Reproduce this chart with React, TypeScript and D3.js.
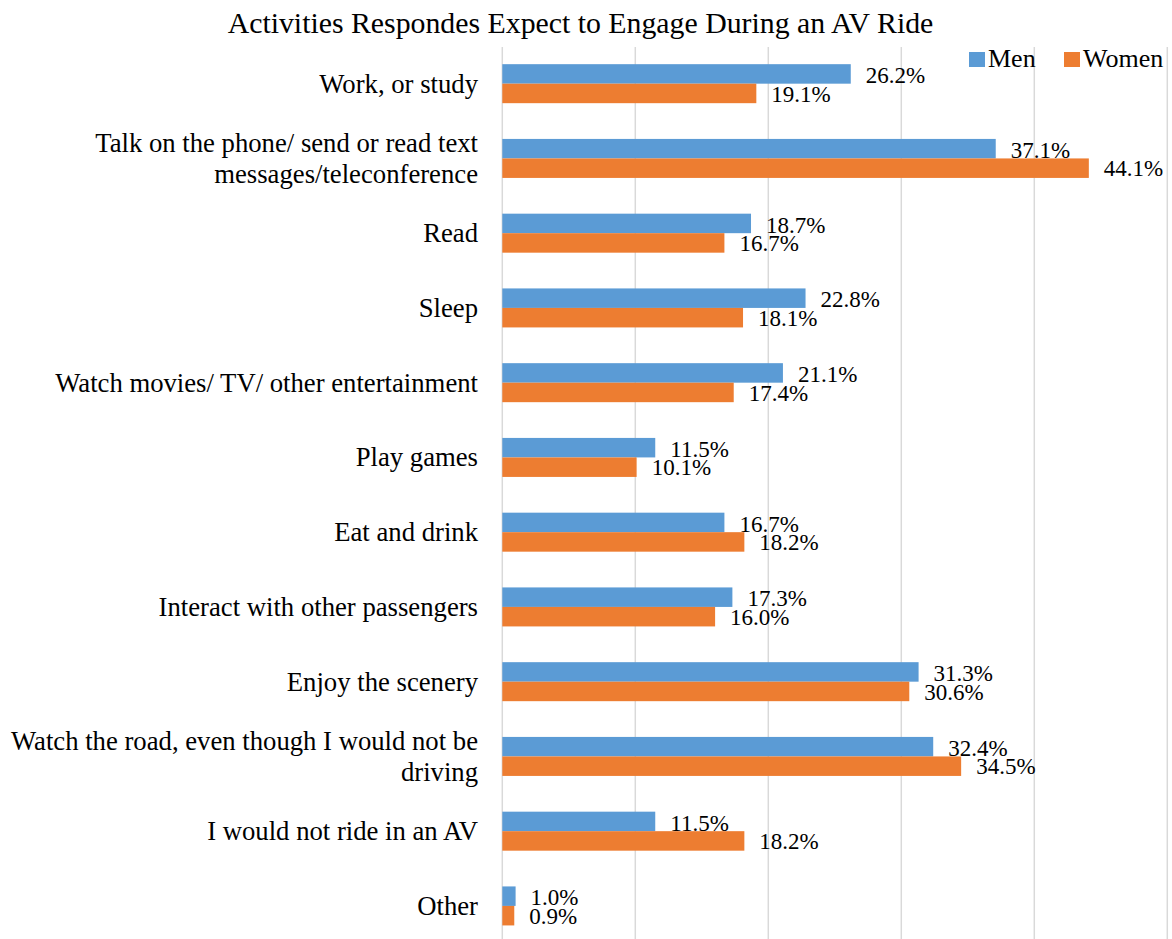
import React from 'react';
import * as d3 from 'd3';

const title = 'Activities Respondes Expect to Engage During an AV Ride';
const categories = [
  'Work, or study',
  'Talk on the phone/ send or read text messages/teleconference',
  'Read',
  'Sleep',
  'Watch movies/ TV/ other entertainment',
  'Play games',
  'Eat and drink',
  'Interact with other passengers',
  'Enjoy the scenery',
  'Watch the road, even though I would not be driving',
  'I would not ride in an AV',
  'Other',
];
const men = [26.2, 37.1, 18.7, 22.8, 21.1, 11.5, 16.7, 17.3, 31.3, 32.4, 11.5, 1.0];
const women = [19.1, 44.1, 16.7, 18.1, 17.4, 10.1, 18.2, 16.0, 30.6, 34.5, 18.2, 0.9];
const seriesNames = ['Men', 'Women'];
const colors = ['#5B9BD5', '#ED7D31'];
const ticks = [0, 10, 20, 30, 40, 50];

const FONT = '"Liberation Serif", "Times New Roman", serif';
const W = 1172, H = 939;

// simple word wrap with canvas metrics
function wrap(text: string, size: number, maxW: number): string[] {
  const ctx = document.createElement('canvas').getContext('2d')!;
  ctx.font = `${size}px "Liberation Serif"`;
  const words = text.split(' ');
  const lines: string[] = [];
  let cur = '';
  words.forEach(w => {
    const t = cur ? cur + ' ' + w : w;
    if (cur && ctx.measureText(t).width > maxW) {
      lines.push(cur);
      cur = w;
    } else cur = t;
  });
  if (cur) lines.push(cur);
  return lines;
}

export default function App() {
  const x = d3.scaleLinear().domain([0, 50]).range([502.3, 1167.3]);
  const y = d3.scaleBand().domain(categories).range([46.3, 943.3]).padding(0);
  const barH = 19.5;
  const labelSize = 26.7;

  return (
    <svg width={W} height={H} style={{position: 'absolute', left: 0, top: 0, background: '#fff'}}
      fontFamily={FONT}>
      <text x={580.5} y={33} textAnchor="middle" fontSize={29.8} fontFamily={FONT} fill="#000">{title}</text>

      {ticks.map(t => (
        <line key={t} x1={x(t)} x2={x(t)} y1={47} y2={H} stroke="#d9d9d9" strokeWidth={1.5} />
      ))}

      {categories.map((c, i) => {
        const cy = y(c)! + y.bandwidth() / 2;
        const lines = wrap(c, labelSize, 485);
        const lh = 31.5;
        const y0 = cy - (lines.length - 1) * lh / 2;
        return (
          <g key={c}>
            <text x={478} textAnchor="end" fontSize={labelSize} fontFamily={FONT} fill="#000">
              {lines.map((l, j) => (
                <tspan key={j} x={478} y={y0 + j * lh + 9}>{l}</tspan>
              ))}
            </text>
            {[men[i], women[i]].map((v, k) => {
              const by = cy - barH + k * barH;
              return (
                <g key={k}>
                  <rect x={x(0)} y={by} width={x(v) - x(0)} height={barH} fill={colors[k]} />
                  <text x={x(v) + 15} y={by + barH - (k === 0 ? 0.5 : 1.5)} fontSize={23}
                    fontFamily={FONT} fill="#000">
                    {v.toFixed(1) + '%'}
                  </text>
                </g>
              );
            })}
          </g>
        );
      })}

      {seriesNames.map((s, k) => {
        const lx = k === 0 ? 969 : 1064;
        return (
          <g key={s}>
            <rect x={lx} y={52} width={16} height={15} fill={colors[k]} />
            <text x={lx + 19} y={67} fontSize={26} fontFamily={FONT} fill="#000">{s}</text>
          </g>
        );
      })}
    </svg>
  );
}
